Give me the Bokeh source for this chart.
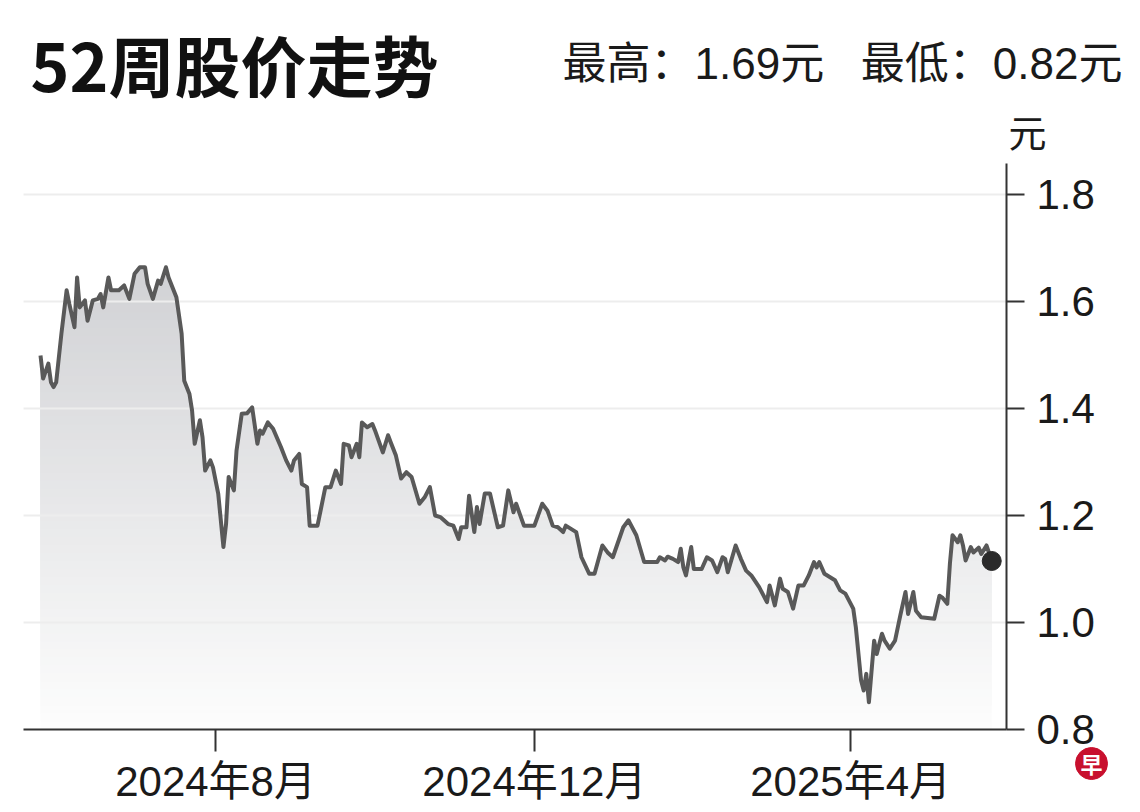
import numpy as np
import pandas as pd
from bokeh.plotting import figure
from bokeh.models import Label, FixedTicker, Range1d, PrintfTickFormatter
from bokeh.embed import file_html
from bokeh.resources import INLINE

# ---------------- data ----------------
dates = [
    "2024-05-26", "2024-05-27", "2024-05-29", "2024-05-30", "2024-05-31", "2024-06-01",
    "2024-06-03", "2024-06-05", "2024-06-06", "2024-06-08", "2024-06-09", "2024-06-10",
    "2024-06-12", "2024-06-13", "2024-06-15", "2024-06-17", "2024-06-18", "2024-06-19",
    "2024-06-21", "2024-06-22", "2024-06-25", "2024-06-27", "2024-06-29", "2024-07-01",
    "2024-07-03", "2024-07-05", "2024-07-06", "2024-07-08", "2024-07-10", "2024-07-11",
    "2024-07-13", "2024-07-14", "2024-07-17", "2024-07-19", "2024-07-20", "2024-07-22",
    "2024-07-23", "2024-07-24", "2024-07-26", "2024-07-27", "2024-07-28", "2024-07-30",
    "2024-07-31", "2024-08-02", "2024-08-04", "2024-08-05", "2024-08-06", "2024-08-08",
    "2024-08-09", "2024-08-11", "2024-08-13", "2024-08-15", "2024-08-17", "2024-08-18",
    "2024-08-19", "2024-08-21", "2024-08-23", "2024-08-26", "2024-08-28", "2024-08-30",
    "2024-08-31", "2024-09-02", "2024-09-03", "2024-09-05", "2024-09-06", "2024-09-09",
    "2024-09-12", "2024-09-14", "2024-09-16", "2024-09-18", "2024-09-19", "2024-09-21",
    "2024-09-22", "2024-09-24", "2024-09-25", "2024-09-26", "2024-09-28", "2024-09-30",
    "2024-10-01", "2024-10-04", "2024-10-06", "2024-10-07", "2024-10-09", "2024-10-11",
    "2024-10-13", "2024-10-15", "2024-10-18", "2024-10-20", "2024-10-22", "2024-10-24",
    "2024-10-26", "2024-10-29", "2024-10-31", "2024-11-02", "2024-11-03", "2024-11-05",
    "2024-11-06", "2024-11-08", "2024-11-09", "2024-11-10", "2024-11-12", "2024-11-14",
    "2024-11-17", "2024-11-19", "2024-11-21", "2024-11-23", "2024-11-24", "2024-11-27",
    "2024-12-01", "2024-12-04", "2024-12-06", "2024-12-08", "2024-12-10", "2024-12-12",
    "2024-12-13", "2024-12-15", "2024-12-17", "2024-12-19", "2024-12-22", "2024-12-24",
    "2024-12-27", "2024-12-29", "2024-12-31", "2025-01-04", "2025-01-06", "2025-01-09",
    "2025-01-12", "2025-01-17", "2025-01-18", "2025-01-20", "2025-01-21", "2025-01-23",
    "2025-01-25", "2025-01-26", "2025-01-27", "2025-01-28", "2025-01-30", "2025-01-31",
    "2025-02-03", "2025-02-05", "2025-02-07", "2025-02-09", "2025-02-11", "2025-02-12",
    "2025-02-13", "2025-02-16", "2025-02-18", "2025-02-20", "2025-02-22", "2025-02-25",
    "2025-02-28", "2025-03-01", "2025-03-03", "2025-03-05", "2025-03-06", "2025-03-08",
    "2025-03-10", "2025-03-12", "2025-03-14", "2025-03-16", "2025-03-18", "2025-03-19",
    "2025-03-20", "2025-03-22", "2025-03-24", "2025-03-26", "2025-03-28", "2025-03-30",
    "2025-04-02", "2025-04-03", "2025-04-05", "2025-04-06", "2025-04-07", "2025-04-08",
    "2025-04-10", "2025-04-11", "2025-04-13", "2025-04-14", "2025-04-16", "2025-04-18",
    "2025-04-20", "2025-04-22", "2025-04-23", "2025-04-25", "2025-04-26", "2025-04-28",
    "2025-05-03", "2025-05-05", "2025-05-06", "2025-05-08", "2025-05-09", "2025-05-10",
    "2025-05-12", "2025-05-13", "2025-05-14", "2025-05-15", "2025-05-17", "2025-05-18",
    "2025-05-20", "2025-05-21", "2025-05-23", "2025-05-25",
]
prices = [
    1.499, 1.456, 1.484, 1.449, 1.440, 1.449,
    1.540, 1.621, 1.596, 1.552, 1.645, 1.589,
    1.602, 1.564, 1.602, 1.605, 1.614, 1.589,
    1.645, 1.621, 1.621, 1.630, 1.605, 1.652,
    1.664, 1.664, 1.633, 1.605, 1.639, 1.633,
    1.664, 1.645, 1.608, 1.540, 1.452, 1.427,
    1.396, 1.334, 1.378, 1.346, 1.284, 1.303,
    1.290, 1.241, 1.141, 1.184, 1.272, 1.247,
    1.321, 1.390, 1.391, 1.402, 1.334, 1.359,
    1.353, 1.374, 1.362, 1.328, 1.303, 1.284,
    1.303, 1.315, 1.259, 1.253, 1.181, 1.181,
    1.253, 1.253, 1.284, 1.259, 1.334, 1.331,
    1.309, 1.334, 1.309, 1.374, 1.365, 1.371,
    1.359, 1.318, 1.350, 1.337, 1.312, 1.269,
    1.281, 1.272, 1.222, 1.234, 1.253, 1.200,
    1.197, 1.184, 1.181, 1.156, 1.178, 1.178,
    1.237, 1.169, 1.216, 1.184, 1.241, 1.241,
    1.178, 1.181, 1.247, 1.206, 1.222, 1.181,
    1.181, 1.222, 1.209, 1.181, 1.178, 1.169,
    1.181, 1.175, 1.169, 1.122, 1.091, 1.091,
    1.144, 1.131, 1.122, 1.178, 1.191, 1.163,
    1.113, 1.113, 1.122, 1.116, 1.123, 1.119,
    1.113, 1.138, 1.103, 1.088, 1.141, 1.100,
    1.100, 1.122, 1.116, 1.094, 1.122, 1.119,
    1.094, 1.144, 1.119, 1.097, 1.088, 1.066,
    1.038, 1.069, 1.032, 1.082, 1.063, 1.057,
    1.026, 1.069, 1.069, 1.088, 1.113, 1.103,
    1.113, 1.091, 1.085, 1.079, 1.060, 1.054,
    1.026, 0.991, 0.892, 0.873, 0.904, 0.851,
    0.966, 0.941, 0.979, 0.966, 0.951, 0.966,
    1.013, 1.057, 1.016, 1.057, 1.022, 1.010,
    1.007, 1.050, 1.047, 1.035, 1.110, 1.163,
    1.150, 1.163, 1.144, 1.116, 1.141, 1.131,
    1.140, 1.128, 1.144, 1.115,
]

tick_dates = ["2024-08-01", "2024-12-01", "2025-04-01"]
tick_labels = ["2024年8月", "2024年12月", "2025年4月"]
y_ticks = [0.8, 1.0, 1.2, 1.4, 1.6, 1.8]
title_text = "52周股价走势"
high_text = "最高：1.69元"
low_text = "最低：0.82元"
unit_text = "元"
logo_text = "早"

# ---------------- figure ----------------
x = pd.to_datetime(dates)
y = np.array(prices)

TICKFONT = "Liberation Sans, Noto Sans CJK SC, sans-serif"
CJK = "Noto Sans CJK SC"

axis_start = pd.Timestamp("2024-05-19 12:15")
axis_end = pd.Timestamp("2025-05-30 15:36")
y_top = 1.858
axis_end_ms = axis_end.value / 1e6

W, H = 1140, 812
p = figure(
    width=W, height=H,
    x_axis_type="datetime", y_axis_location="right",
    x_range=Range1d(pd.Timestamp("2024-05-10 16:34"), pd.Timestamp("2025-07-20 22:20")),
    y_range=Range1d(0.64486, 2.16262),
    output_backend="svg", toolbar_location=None,
    min_border=0, min_border_left=0, min_border_right=0,
    min_border_top=0, min_border_bottom=0,
)
p.background_fill_color = "white"
p.border_fill_color = "white"
p.outline_line_color = None
p.xgrid.grid_line_color = None
p.ygrid.grid_line_color = None

# vertical gradient fill under the line (stacked layers, darker higher up)
levels = np.arange(0.80, 1.70, 0.015)
c_lo = np.array([253, 253, 253])
c_hi = np.array([208, 209, 212])
for L in levels:
    t = (L - 0.80) / 0.88
    c = (c_lo + (c_hi - c_lo) * min(max(t, 0), 1)).astype(int)
    col = "#%02x%02x%02x" % tuple(c)
    r = p.varea(x=x, y1=np.minimum(L, y), y2=y, fill_color=col, fill_alpha=1.0)
    r.level = "image"

# horizontal grid lines at the y ticks (within the plotting area)
grid_y = [v for v in y_ticks if v > y_ticks[0]]
g = p.segment(x0=[axis_start] * len(grid_y), x1=[axis_end] * len(grid_y),
              y0=grid_y, y1=grid_y, line_color="#ededed", line_width=2)
g.level = "underlay"

p.line(x, y, line_color="#595959", line_width=4, line_join="round")
p.scatter(x[-1:], y[-1:], size=19, fill_color="#2a2a2a", line_color="#2a2a2a")

# y axis (right), fixed at the right edge of the plotting area
p.yaxis.fixed_location = axis_end_ms
p.yaxis.bounds = (y_ticks[0], y_top)
p.yaxis.ticker = FixedTicker(ticks=y_ticks)
p.yaxis.formatter = PrintfTickFormatter(format="%.1f")
p.yaxis.axis_line_color = "#333333"
p.yaxis.axis_line_width = 2
p.yaxis.major_tick_line_color = "#333333"
p.yaxis.major_tick_line_width = 2
p.yaxis.major_tick_out = 18
p.yaxis.major_tick_in = 0
p.yaxis.minor_tick_line_color = None
p.yaxis.major_label_standoff = 12
p.yaxis.major_label_text_font = TICKFONT
p.yaxis.major_label_text_font_size = "42px"
p.yaxis.major_label_text_color = "#1a1a1a"

# x axis (bottom), fixed at the 0.8 level
tick_ms = [pd.Timestamp(d).value / 1e6 for d in tick_dates]
p.xaxis.fixed_location = y_ticks[0]
p.xaxis.bounds = (axis_start, axis_end)
p.xaxis.ticker = FixedTicker(ticks=tick_ms)
p.xaxis.major_label_overrides = {m: lab for m, lab in zip(tick_ms, tick_labels)}
p.xaxis.axis_line_color = "#333333"
p.xaxis.axis_line_width = 2
p.xaxis.major_tick_line_color = "#333333"
p.xaxis.major_tick_line_width = 2
p.xaxis.major_tick_out = 22
p.xaxis.major_tick_in = 0
p.xaxis.minor_tick_line_color = None
p.xaxis.major_label_standoff = 6
p.xaxis.major_label_text_font = TICKFONT
p.xaxis.major_label_text_font_size = "42px"
p.xaxis.major_label_text_color = "#1a1a1a"

# logo badge (red disc with a white character), bottom right corner
p.scatter([pd.Timestamp("2025-07-02 04:20")], [0.7364], size=32,
          fill_color="#c8102e", line_color="#c8102e")
p.add_layout(Label(x=1091, y=50, x_units="screen", y_units="screen", text=logo_text,
                   text_font=CJK, text_font_style="bold",
                   text_font_size="22px", text_color="white",
                   text_baseline="middle", text_align="center"))

# header and other texts (screen units: from the canvas left / bottom)
p.add_layout(Label(x=30, y=750, x_units="screen", y_units="screen", text=title_text,
                   text_font=CJK, text_font_style="bold",
                   text_font_size="66px", text_color="#111111", text_baseline="middle"))
p.add_layout(Label(x=562, y=749, x_units="screen", y_units="screen", text=high_text,
                   text_font=TICKFONT, text_font_size="44px", text_color="#1a1a1a",
                   text_baseline="middle"))
p.add_layout(Label(x=1122, y=749, x_units="screen", y_units="screen", text=low_text,
                   text_font=TICKFONT, text_font_size="44px", text_color="#1a1a1a",
                   text_baseline="middle", text_align="right"))
p.add_layout(Label(x=1027, y=682, x_units="screen", y_units="screen", text=unit_text,
                   text_font=CJK, text_font_size="38px", text_color="#1a1a1a",
                   text_baseline="middle", text_align="center"))

open("out.html", "w").write(file_html(p, INLINE))
